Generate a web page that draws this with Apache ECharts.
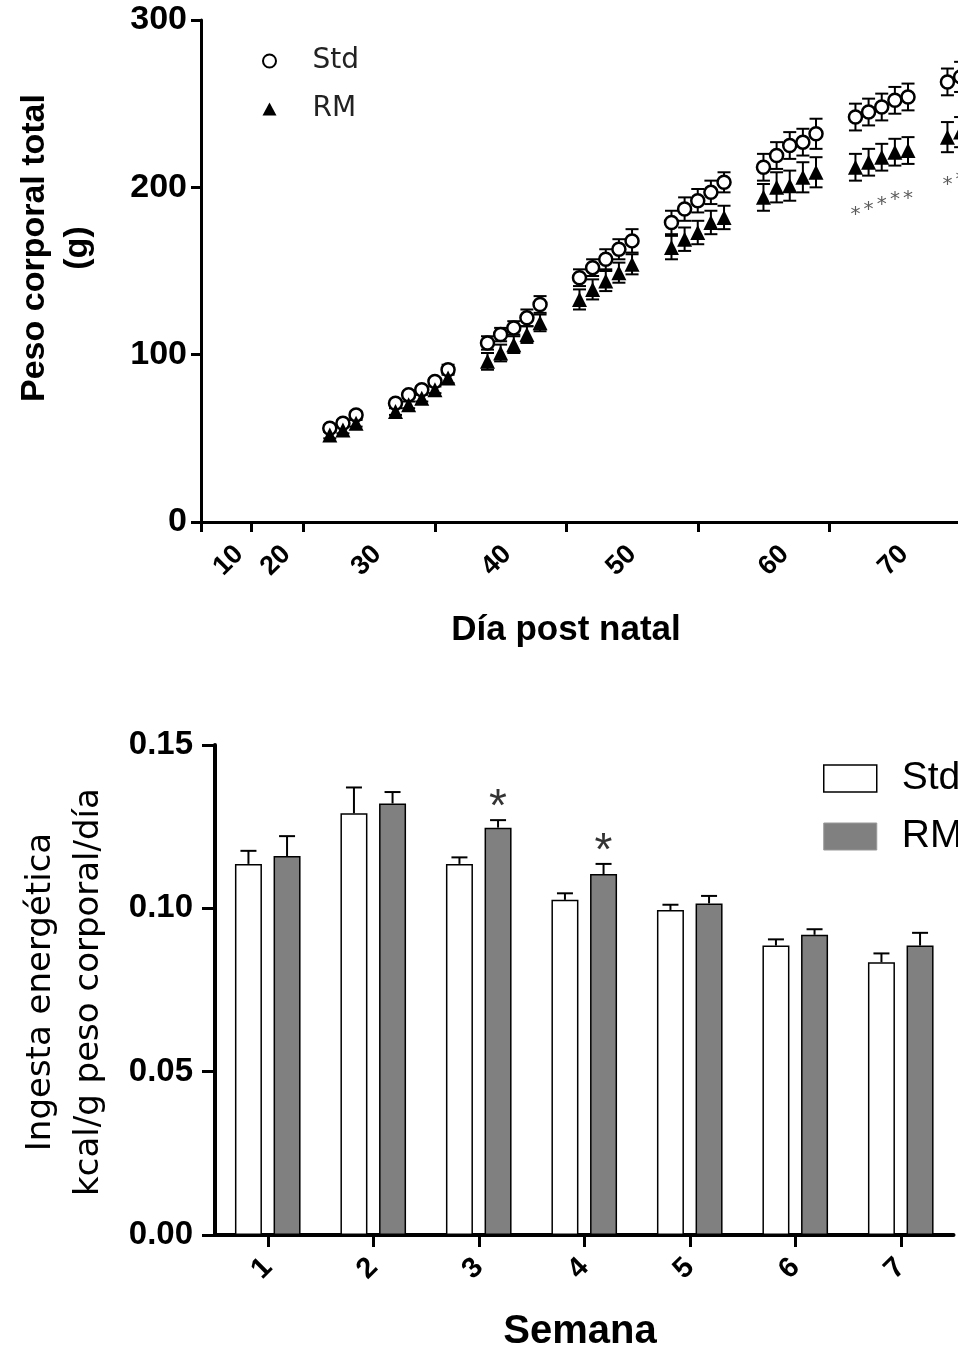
<!DOCTYPE html>
<html>
<head>
<meta charset="utf-8">
<title>Peso corporal e ingesta energética</title>
<script src="https://cdn.jsdelivr.net/npm/echarts@6.0.0/dist/echarts.min.js"></script>
<style>
  html, body { margin: 0; padding: 0; background: #fff; overflow: hidden; }
  #chart { width: 1100px; height: 1349px; }
</style>
</head>
<body>
<div id="chart"></div>
<script>
// Peso corporal total (g) por día post natal
const days = [22, 23, 24, 27, 28, 29, 30, 31, 34, 35, 36, 37, 38, 41, 42, 43, 44, 45,
  48, 49, 50, 51, 52, 55, 56, 57, 58, 59, 62, 63, 64, 65, 66, 69, 70];
const stdWeight = [56, 59, 64, 71, 76, 79, 84, 91, 107, 112, 116, 122, 130, 146, 152, 157, 163, 168,
  179, 187, 192, 197, 203, 212, 219, 225, 227, 232, 242, 245, 248, 252, 254, 263, 266];
const stdWeightErr = [2, 2, 2, 2, 2, 2, 2, 3, 4, 4, 4, 5, 5, 5, 5, 6, 6, 7,
  7, 7, 7, 7, 6, 8, 8, 8, 8, 9, 8, 8, 8, 8, 8, 8, 9];
const rmWeight = [52, 55, 59, 66, 70, 74, 79, 86, 96, 101, 106, 112, 119, 133, 139, 144, 149, 154,
  164, 169, 173, 179, 182, 194, 200, 201, 206, 209, 212, 215, 218, 221, 222, 230, 233];
const rmWeightErr = [2, 2, 2, 2, 2, 2, 2, 3, 5, 5, 5, 5, 5, 6, 6, 6, 6, 6,
  7, 7, 7, 7, 7, 8, 9, 9, 9, 9, 8, 8, 8, 8, 8, 9, 9];
const sigDays = [62, 63, 64, 65, 66, 69, 70];
const dayTickLabels = ['10', '20', '30', '40', '50', '60', '70'];

// Ingesta energética (kcal/g peso corporal/día) por semana
const weeks = ['1', '2', '3', '4', '5', '6', '7'];
const stdIntake = [0.1136, 0.1291, 0.1136, 0.1026, 0.0995, 0.0886, 0.0835];
const stdIntakeErr = [0.0040, 0.0079, 0.0020, 0.0020, 0.0016, 0.0019, 0.0027];
const rmIntake = [0.1160, 0.1321, 0.1247, 0.1105, 0.1015, 0.0919, 0.0886];
const rmIntakeErr = [0.0061, 0.0035, 0.0023, 0.0031, 0.0023, 0.0017, 0.0039];
const sigWeeks = ['3', '4'];

// posiciones de las etiquetas del eje de días (como en la figura original)
const dayLabelAt = [15.1, 18.7, 25.6, 35.5, 45, 56.6, 65.7];
const dayTicksAt = [12.2, 16, 20, 30, 40, 50, 60, 70, 80];

const BAR_W = 27;
const BAR_SHIFT = 19.3; // mitad de (ancho de barra + hueco)

const chart = echarts.init(document.getElementById('chart'));

const axisFont = 'Liberation Sans';

// barras de error completas (arriba y abajo)
const renderErrBoth = (params, api) => {
  const x = api.value(0);
  const lo = api.coord([x, api.value(1)]);
  const hi = api.coord([x, api.value(2)]);
  const w = 6.5;
  const style = { stroke: '#000', lineWidth: 2 };
  return {
    type: 'group',
    children: [
      { type: 'line', shape: { x1: lo[0], y1: lo[1], x2: hi[0], y2: hi[1] }, style },
      { type: 'line', shape: { x1: lo[0] - w, y1: lo[1], x2: lo[0] + w, y2: lo[1] }, style },
      { type: 'line', shape: { x1: hi[0] - w, y1: hi[1], x2: hi[0] + w, y2: hi[1] }, style }
    ]
  };
};

// barras de error solo hacia arriba, desplazadas hacia su barra
const makeErrUp = (shift) => (params, api) => {
  const idx = api.value(0);
  const base = api.coord([idx, api.value(1)]);
  const top = api.coord([idx, api.value(2)]);
  const x = base[0] + shift;
  const w = 8;
  const style = { stroke: '#000', lineWidth: 2 };
  return {
    type: 'group',
    children: [
      { type: 'line', shape: { x1: x, y1: base[1], x2: x, y2: top[1] }, style },
      { type: 'line', shape: { x1: x - w, y1: top[1], x2: x + w, y2: top[1] }, style }
    ]
  };
};

const option = {
  animation: false,
  backgroundColor: '#fff',
  grid: [
    { left: 201, top: 20, width: 891, height: 502, outerBoundsMode: 'none' },
    { left: 215, top: 745, width: 738.5, height: 490, outerBoundsMode: 'none' }
  ],
  legend: [
    {
      orient: 'vertical', left: 257, top: 41,
      itemWidth: 14, itemHeight: 13, itemGap: 18, selectedMode: false,
      data: [
        { name: 'Std', icon: 'circle', itemStyle: { color: '#fff', borderColor: '#000', borderWidth: 2 } },
        { name: 'RM', icon: 'triangle', itemStyle: { color: '#000', borderWidth: 0 } }
      ],
      textStyle: { fontFamily: 'DejaVu Sans', fontSize: 28, color: '#222', lineHeight: 30, padding: [0, 0, 0, 31] }
    },
    {
      orient: 'vertical', left: 818, top: 754,
      itemWidth: 53, itemHeight: 27, itemGap: 19, selectedMode: false,
      data: [
        { name: 'Std', icon: 'rect', itemStyle: { color: '#fff', borderColor: '#000', borderWidth: 1.5 } },
        { name: 'RM', icon: 'rect', itemStyle: { color: '#808080', borderColor: '#999', borderWidth: 1 } }
      ],
      textStyle: { fontFamily: axisFont, fontSize: 39, color: '#000', lineHeight: 29, padding: [0, 0, 0, 20] }
    }
  ],
  xAxis: [
    {
      type: 'value', gridIndex: 0, min: 12.2, max: 80,
      axisLine: { show: true, onZero: false, lineStyle: { color: '#000', width: 3 } },
      axisTick: { show: true, customValues: dayTicksAt, length: 10, lineStyle: { color: '#000', width: 3 } },
      axisLabel: {
        customValues: dayLabelAt,
        formatter: (v) => {
          let best = 0;
          dayLabelAt.forEach((p, i) => { if (Math.abs(p - v) < Math.abs(dayLabelAt[best] - v)) best = i; });
          return dayTickLabels[best];
        },
        rotate: 45, margin: 28, fontSize: 27, fontWeight: 'bold', color: '#000', fontFamily: axisFont
      },
      splitLine: { show: false }
    },
    {
      type: 'category', gridIndex: 1, data: weeks, boundaryGap: true,
      axisLine: { show: true, onZero: false, lineStyle: { color: '#000', width: 4 } },
      axisTick: { show: true, alignWithLabel: true, length: 12, lineStyle: { color: '#000', width: 3 } },
      axisLabel: { rotate: 45, margin: 28, fontSize: 29, fontWeight: 'bold', color: '#000', fontFamily: axisFont },
      splitLine: { show: false }
    }
  ],
  yAxis: [
    {
      type: 'value', gridIndex: 0, min: 0, max: 300, interval: 100,
      axisLine: { show: true, lineStyle: { color: '#000', width: 3 } },
      axisTick: { show: true, length: 10, lineStyle: { color: '#000', width: 3 } },
      axisLabel: { margin: 14, fontSize: 34, fontWeight: 'bold', color: '#000', fontFamily: axisFont },
      splitLine: { show: false }
    },
    {
      type: 'value', gridIndex: 1, min: 0, max: 0.15, interval: 0.05,
      axisLine: { show: true, lineStyle: { color: '#000', width: 4 } },
      axisTick: { show: true, length: 13, lineStyle: { color: '#000', width: 3 } },
      axisLabel: {
        margin: 22, fontSize: 33, fontWeight: 'bold', color: '#000', fontFamily: axisFont,
        formatter: (v) => v.toFixed(2)
      },
      splitLine: { show: false }
    }
  ],
  graphic: [
    {
      type: 'text', x: 56, y: 248, rotation: Math.PI / 2, silent: true,
      style: {
        text: 'Peso corporal total\n(g)', fill: '#000', fontFamily: axisFont, fontWeight: 'bold',
        fontSize: 34, lineHeight: 43, align: 'center', verticalAlign: 'middle'
      }
    },
    {
      type: 'text', x: 566, y: 630, silent: true,
      style: {
        text: 'Día post natal', fill: '#000', fontFamily: axisFont, fontWeight: 'bold',
        fontSize: 35, align: 'center', verticalAlign: 'middle'
      }
    },
    {
      type: 'text', x: 65, y: 992, rotation: Math.PI / 2, silent: true,
      style: {
        text: 'Ingesta energética\nkcal/g peso corporal/día', fill: '#000', fontFamily: 'DejaVu Sans',
        fontSize: 34, lineHeight: 48, align: 'center', verticalAlign: 'middle'
      }
    },
    {
      type: 'text', x: 580, y: 1332, silent: true,
      style: {
        text: 'Semana', fill: '#000', fontFamily: axisFont, fontWeight: 'bold',
        fontSize: 40, align: 'center', verticalAlign: 'middle'
      }
    }
  ],
  series: [
    // --- peso corporal ---
    {
      name: 'Std EEM', type: 'custom', xAxisIndex: 0, yAxisIndex: 0, silent: true, z: 1,
      renderItem: renderErrBoth,
      data: days.map((d, i) => [d, stdWeight[i] - stdWeightErr[i], stdWeight[i] + stdWeightErr[i]])
    },
    {
      name: 'RM EEM', type: 'custom', xAxisIndex: 0, yAxisIndex: 0, silent: true, z: 1,
      renderItem: renderErrBoth,
      data: days.map((d, i) => [d, rmWeight[i] - rmWeightErr[i], rmWeight[i] + rmWeightErr[i]])
    },
    {
      name: 'Std', type: 'scatter', xAxisIndex: 0, yAxisIndex: 0, z: 2,
      symbol: 'circle', symbolSize: 13,
      itemStyle: { color: '#fff', borderColor: '#000', borderWidth: 2.5, opacity: 1 },
      data: days.map((d, i) => [d, stdWeight[i]])
    },
    {
      name: 'RM', type: 'scatter', xAxisIndex: 0, yAxisIndex: 0, z: 3,
      symbol: 'triangle', symbolSize: 15,
      itemStyle: { color: '#000', opacity: 1 },
      data: days.map((d, i) => [d, rmWeight[i]])
    },
    {
      name: 'sig peso', type: 'scatter', xAxisIndex: 0, yAxisIndex: 0, silent: true, z: 3,
      symbol: 'circle', symbolSize: 1, itemStyle: { color: 'rgba(0,0,0,0)' },
      label: {
        show: true, position: 'inside', offset: [0, 48], formatter: '*',
        fontSize: 20, color: '#333', fontFamily: 'DejaVu Sans'
      },
      data: sigDays.map((d) => [d, rmWeight[days.indexOf(d)]])
    },
    // --- ingesta energética ---
    {
      name: 'Std', type: 'bar', xAxisIndex: 1, yAxisIndex: 1, z: 2,
      barWidth: BAR_W, barGap: '43%',
      itemStyle: { color: '#fff', borderColor: '#000', borderWidth: 1.5 },
      data: stdIntake
    },
    {
      name: 'RM', type: 'bar', xAxisIndex: 1, yAxisIndex: 1, z: 2,
      barWidth: BAR_W, barGap: '43%',
      itemStyle: { color: '#808080', borderColor: '#000', borderWidth: 1.5 },
      data: rmIntake
    },
    {
      name: 'Std EEM semanal', type: 'custom', xAxisIndex: 1, yAxisIndex: 1, silent: true, z: 3,
      renderItem: makeErrUp(-BAR_SHIFT),
      data: weeks.map((w, i) => [i, stdIntake[i], stdIntake[i] + stdIntakeErr[i]])
    },
    {
      name: 'RM EEM semanal', type: 'custom', xAxisIndex: 1, yAxisIndex: 1, silent: true, z: 3,
      renderItem: makeErrUp(BAR_SHIFT),
      data: weeks.map((w, i) => [i, rmIntake[i], rmIntake[i] + rmIntakeErr[i]])
    },
    {
      name: 'sig ingesta', type: 'scatter', xAxisIndex: 1, yAxisIndex: 1, silent: true, z: 3,
      symbol: 'circle', symbolSize: 1, itemStyle: { color: 'rgba(0,0,0,0)' },
      label: {
        show: true, position: 'inside', offset: [BAR_SHIFT, -12], formatter: '*',
        fontSize: 46, color: '#000', fontFamily: axisFont
      },
      data: sigWeeks.map((w) => {
        const i = weeks.indexOf(w);
        return [w, rmIntake[i] + rmIntakeErr[i]];
      })
    }
  ]
};

chart.setOption(option);
</script>
</body>
</html>
